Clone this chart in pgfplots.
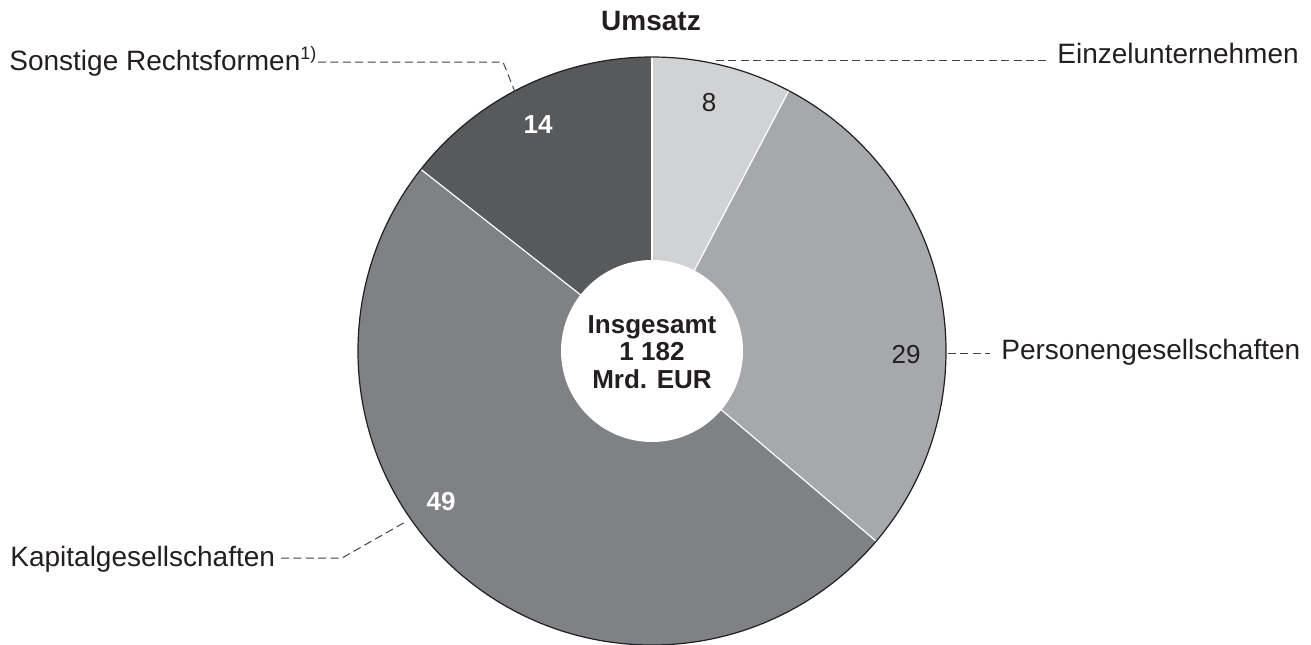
\documentclass[border=0pt]{standalone}
\usepackage{pgfplots}
\usepackage{pgfplotstable}
\pgfplotsset{compat=1.18}
\usepackage{fontspec}
\setmainfont{Liberation Sans}
\definecolor{cA}{HTML}{D1D2D4}
\definecolor{cB}{HTML}{A7A8AB}
\definecolor{cC}{HTML}{808185}
\definecolor{cD}{HTML}{58595B}
\definecolor{txt}{HTML}{231F20}
\pgfplotstableread{
name value
Einzelunternehmen 7.7
Personengesellschaften 28.5
Kapitalgesellschaften 49.4
Sonstige 14.4
}\piedata
\begin{document}
\begin{tikzpicture}
\pgfplotstablegetelem{0}{value}\of\piedata \let\vA\pgfplotsretval
\pgfplotstablegetelem{1}{value}\of\piedata \let\vB\pgfplotsretval
\pgfplotstablegetelem{2}{value}\of\piedata \let\vC\pgfplotsretval
\pgfplotstablegetelem{3}{value}\of\piedata \let\vD\pgfplotsretval
\pgfmathsetmacro\aA{90}
\pgfmathsetmacro\aB{\aA-3.6*\vA}
\pgfmathsetmacro\aC{\aB-3.6*\vB}
\pgfmathsetmacro\aD{\aC-3.6*\vC}
\pgfmathsetmacro\aE{\aD-3.6*\vD}
\begin{axis}[x=0.5pt, y=0.5pt, xmin=0, xmax=1311, ymin=0, ymax=644,
  hide axis, clip=false, scale only axis]
\def\R{147pt}
\fill[cA] (axis cs:652,293) -- ++(\aA:\R) arc[start angle=\aA, end angle=\aB, radius=\R] -- cycle;
\fill[cB] (axis cs:652,293) -- ++(\aB:\R) arc[start angle=\aB, end angle=\aC, radius=\R] -- cycle;
\fill[cC] (axis cs:652,293) -- ++(\aC:\R) arc[start angle=\aC, end angle=\aD, radius=\R] -- cycle;
\fill[cD] (axis cs:652,293) -- ++(\aD:\R) arc[start angle=\aD, end angle=\aE, radius=\R] -- cycle;
\draw[white, line width=0.6pt] (axis cs:652,293) -- ++(\aA:\R);
\draw[white, line width=0.6pt] (axis cs:652,293) -- ++(\aB:\R);
\draw[white, line width=0.6pt] (axis cs:652,293) -- ++(\aC:\R);
\draw[white, line width=0.6pt] (axis cs:652,293) -- ++(\aD:\R);
\draw[txt, line width=0.6pt] (axis cs:652,293) circle[radius=\R];
\fill[white] (axis cs:652,293) circle[radius=45.5pt];
% center text
\node[anchor=base, font=\bfseries\fontsize{13}{14}\selectfont, text=txt, inner sep=0pt] at (axis cs:652,311) {Insgesamt};
\node[anchor=base, font=\bfseries\fontsize{13}{14}\selectfont, text=txt, inner sep=0pt] at (axis cs:652,284) {1 182};
\node[anchor=base, font=\bfseries\fontsize{13}{14}\selectfont, text=txt, inner sep=0pt] at (axis cs:652,256) {Mrd. EUR};
% title
\node[anchor=base, font=\bfseries\fontsize{14}{15}\selectfont, text=txt, inner sep=0pt] at (axis cs:651,614) {Umsatz};
% values
\node[anchor=base, font=\fontsize{13}{14}\selectfont, text=txt, inner sep=0pt] at (axis cs:709,533) {8};
\node[anchor=base, font=\fontsize{13}{14}\selectfont, text=txt, inner sep=0pt] at (axis cs:906,281) {29};
\node[anchor=base, font=\bfseries\fontsize{13}{14}\selectfont, text=white, inner sep=0pt] at (axis cs:441,134) {49};
\node[anchor=base, font=\bfseries\fontsize{13}{14}\selectfont, text=white, inner sep=0pt] at (axis cs:538,511) {14};
% labels
\tikzset{lead/.style={txt!85, line width=0.5pt, dash pattern=on 4pt off 2.2pt}}
\node[anchor=base west, font=\fontsize{14}{16}\selectfont, text=txt, inner sep=0pt] at (axis cs:1057,581) {Einzelunternehmen};
\draw[lead] (axis cs:716,584) -- (axis cs:1048,584);
\node[anchor=base west, font=\fontsize{14}{16}\selectfont, text=txt, inner sep=0pt] at (axis cs:9,574) {Sonstige Rechtsformen\textsuperscript{\fontsize{9}{10}\selectfont 1)}};
\draw[lead] (axis cs:318,582) -- (axis cs:503,582) -- (axis cs:515,552);
\node[anchor=base west, font=\fontsize{14}{16}\selectfont, text=txt, inner sep=0pt] at (axis cs:1001,285) {Personengesellschaften};
\draw[lead] (axis cs:948,291) -- (axis cs:990,291);
\node[anchor=base west, font=\fontsize{14}{16}\selectfont, text=txt, inner sep=0pt] at (axis cs:10,78) {Kapitalgesellschaften};
\draw[lead] (axis cs:281,86) -- (axis cs:342,86) -- (axis cs:407,123);
\end{axis}
\pgfresetboundingbox
\path (current axis.south west) rectangle (current axis.north east);
\end{tikzpicture}
\end{document}
